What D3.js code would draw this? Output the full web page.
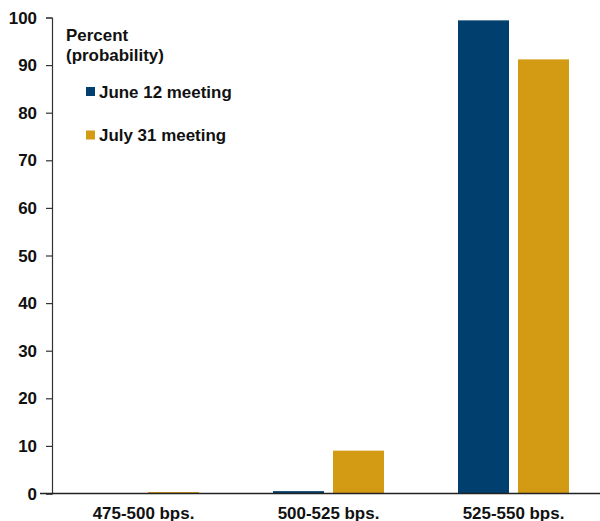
<!DOCTYPE html>
<html>
<head>
<meta charset="utf-8">
<script src="https://cdn.jsdelivr.net/npm/d3@7"></script>
<style>
  html, body { margin: 0; padding: 0; background: #fff; }
  svg text { font-family: "Liberation Sans", Arial, sans-serif; font-weight: bold; fill: #111; }
</style>
</head>
<body>
<svg id="chart" width="600" height="521"></svg>
<script>
// Rate ranges (target range after the meeting)
const categories = ["475-500 bps.", "500-525 bps.", "525-550 bps."];
// Series names and probabilities, in percent
const seriesNames = ["June 12 meeting", "July 31 meeting"];
const june12 = [0, 0.5, 99.4];
const july31 = [0.3, 9.0, 91.2];
const yTicks = [0, 10, 20, 30, 40, 50, 60, 70, 80, 90, 100];

const colors = { "June 12 meeting": "#003f6e", "July 31 meeting": "#d39a13" };
const seriesValues = { "June 12 meeting": june12, "July 31 meeting": july31 };

const svg = d3.select("#chart");
const sx = 1.06; // slight horizontal widening of the text
const fs = "16px";

const y = d3.scaleLinear().domain([0, 100]).range([493.5, 17.5]);
const x0 = d3.scaleBand().domain(categories).range([51, 606]).paddingInner(0.4).paddingOuter(0.2);
const x1 = d3.scaleBand().domain(seriesNames).range([0, x0.bandwidth()]).paddingInner(0.15);

// Bars
const groups = svg.append("g").selectAll("g")
  .data(categories)
  .join("g")
  .attr("transform", d => `translate(${x0(d)},0)`);

groups.selectAll("rect")
  .data((c, i) => seriesNames.map(s => ({ s, v: seriesValues[s][i] })))
  .join("rect")
  .attr("x", d => x1(d.s))
  .attr("width", x1.bandwidth())
  .attr("y", d => y(d.v))
  .attr("height", d => y(0) - y(d.v))
  .attr("fill", d => colors[d.s]);

// Y axis
const yAxis = svg.append("g").attr("transform", "translate(52,0)")
  .call(d3.axisLeft(y).tickValues(yTicks).tickSize(6).tickFormat(d3.format("d")));
yAxis.select(".domain").attr("stroke", "#333").attr("stroke-width", 1.2);
yAxis.selectAll(".tick line").attr("stroke", "#333").attr("stroke-width", 1.2);
yAxis.selectAll(".tick text").remove();

// Y tick labels
svg.append("g").selectAll("text")
  .data(yTicks)
  .join("text")
  .attr("text-anchor", "end")
  .attr("transform", d => `translate(37,${y(d) + 6}) scale(${sx},1)`)
  .style("font-size", fs)
  .text(d => d);

// Baseline
const xAxis = svg.append("g").attr("transform", `translate(0,${y(0)})`)
  .call(d3.axisBottom(x0).tickSize(0).tickFormat(""));
xAxis.select(".domain").attr("d", "M40,0H600").attr("stroke", "#222").attr("stroke-width", 1.5);

// Category labels
svg.append("g").selectAll("text")
  .data(categories)
  .join("text")
  .attr("text-anchor", "middle")
  .attr("transform", d => `translate(${x0(d) + x0.bandwidth() / 2},519) scale(${sx},1)`)
  .style("font-size", fs)
  .text(d => d);

// Units label
svg.append("text").attr("transform", `translate(66,41) scale(${sx},1)`).style("font-size", fs).text("Percent");
svg.append("text").attr("transform", `translate(66,61) scale(${sx},1)`).style("font-size", fs).text("(probability)");

// Legend
const legend = svg.append("g").selectAll("g")
  .data(seriesNames)
  .join("g")
  .attr("transform", (d, i) => `translate(86,${87 + i * 43.5})`);
legend.append("rect").attr("width", 9).attr("height", 9).attr("fill", d => colors[d]);
legend.append("text")
  .attr("transform", `translate(13,10.5) scale(${sx},1)`)
  .style("font-size", fs)
  .text(d => d);
</script>
</body>
</html>
